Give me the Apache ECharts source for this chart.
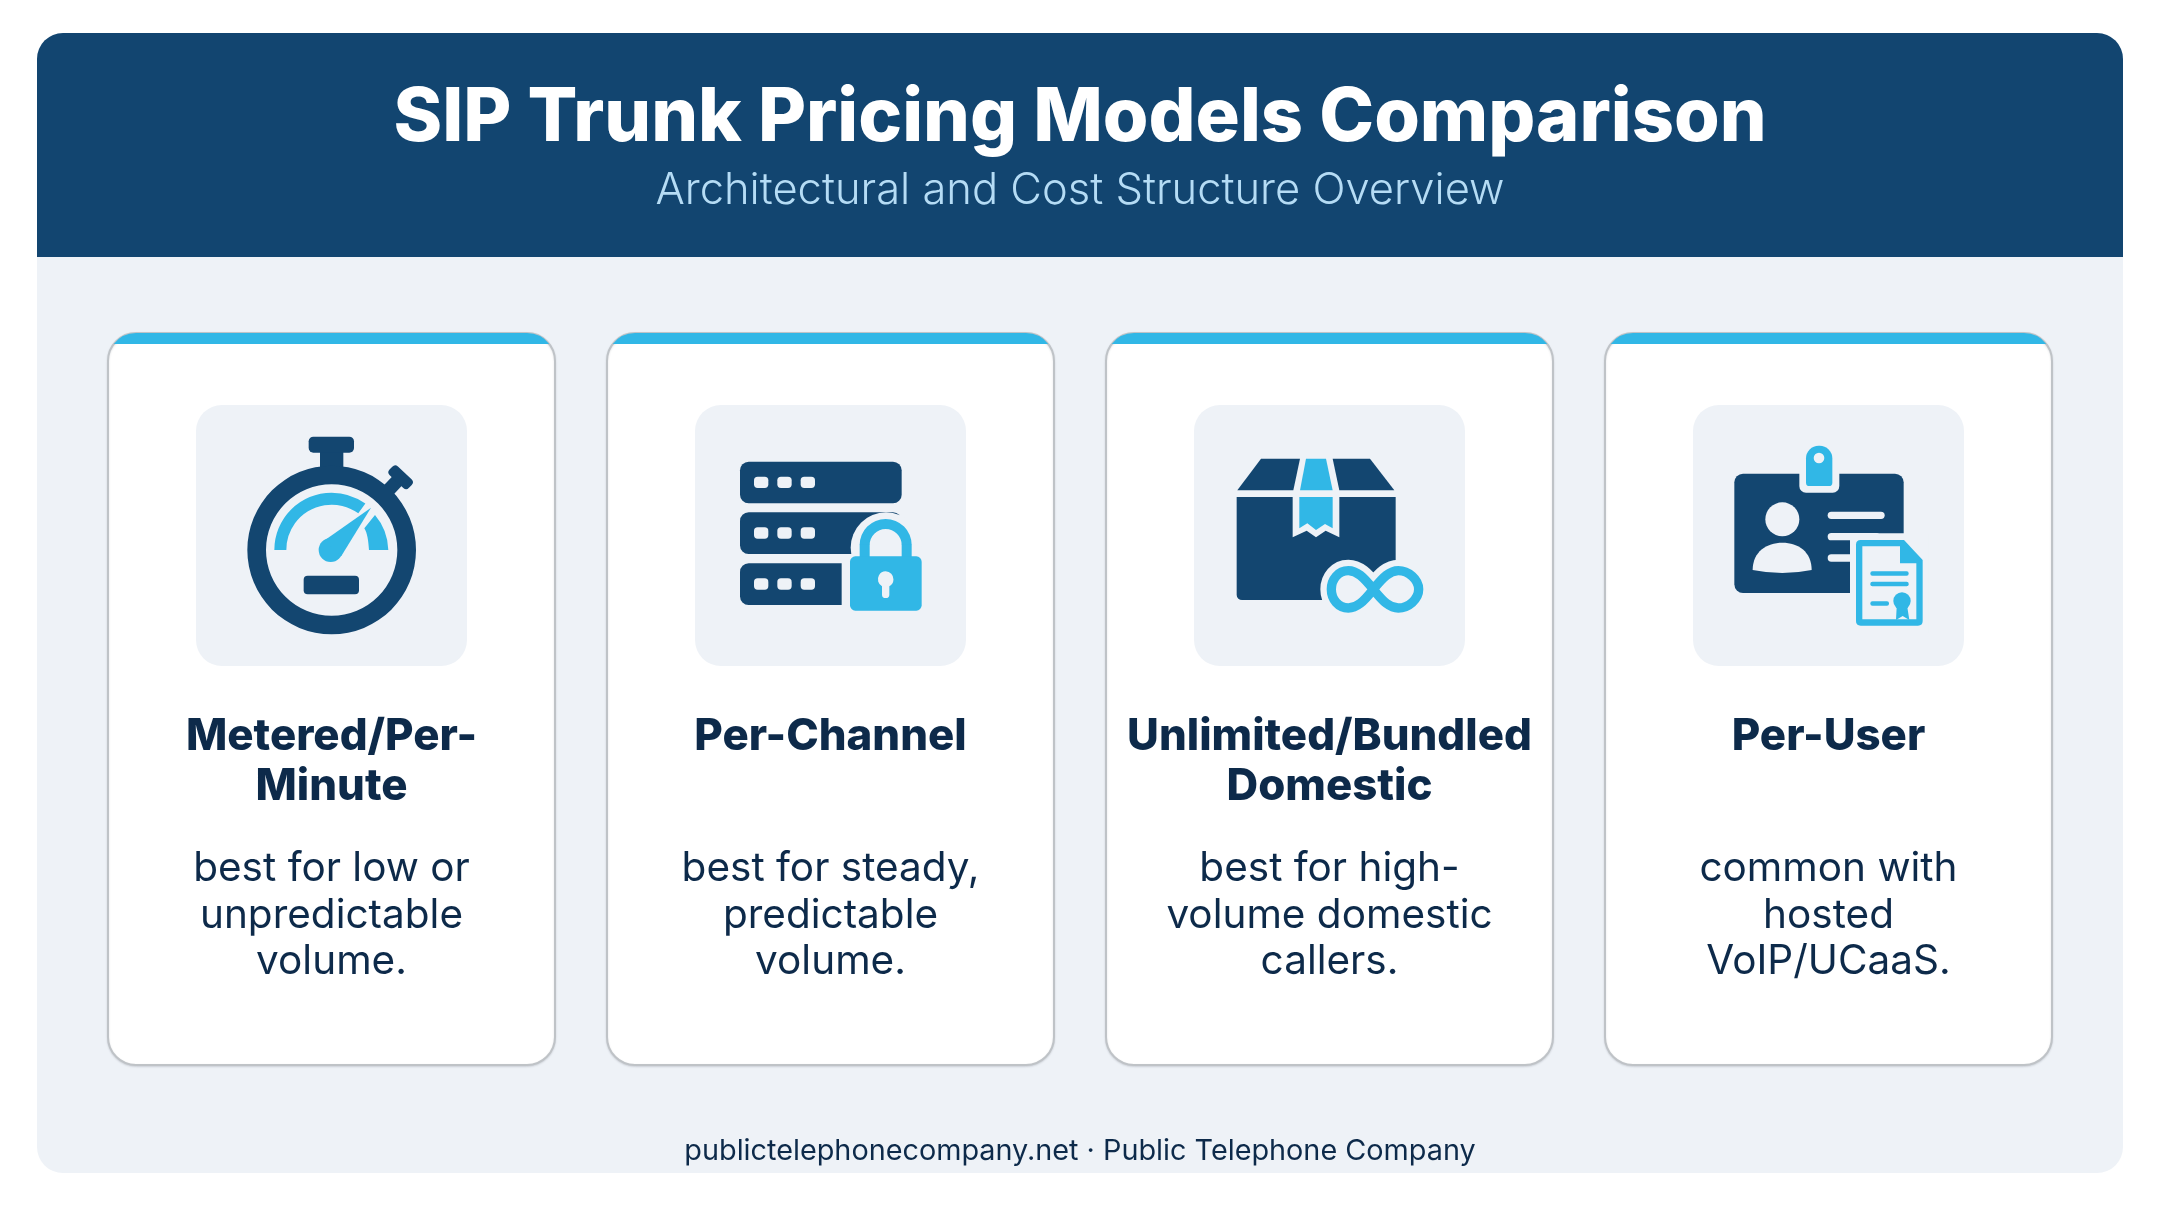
<!DOCTYPE html>
<html lang="en">
<head>
	<meta charset="utf-8">
	<title>SIP Trunk Pricing Models Comparison</title>
	<script src="https://cdn.jsdelivr.net/npm/echarts@6/dist/echarts.min.js"></script>
	<style>
		html, body { margin: 0; padding: 0; background: #ffffff; }
		#main { width: 2160px; height: 1206px; }
	</style>
</head>
<body>
	<div id="main"></div>
	<script type="text/javascript">
		// text of the picture
		var chartTitle = 'SIP Trunk Pricing Models Comparison';
		var chartSubtitle = 'Architectural and Cost Structure Overview';
		var footerText = 'publictelephonecompany.net · Public Telephone Company';
		var modelNames = [
			['Metered/Per-', 'Minute'],
			['Per-Channel'],
			['Unlimited/Bundled', 'Domestic'],
			['Per-User']
		];
		var modelNotes = [
			['best for low or', 'unpredictable', 'volume.'],
			['best for steady,', 'predictable', 'volume.'],
			['best for high-', 'volume domestic', 'callers.'],
			['common with', 'hosted', 'VoIP/UCaaS.']
		];

		var NAVY = '#134670';
		var SKY = '#31b7e6';
		var TILE = '#eef2f7';
		var INK = '#0d2a4a';
		var FONT = 'Inter, "Noto Sans", sans-serif';

		var cardLeft = [108, 607, 1106, 1605];
		var tileLeft = [196, 695, 1194, 1693];
		var iconLeft = [180, 680, 1180, 1680];

		// shapes the graphic component does not have
		echarts.graphic.registerShape('cardBar', echarts.graphic.extendShape({
			shape: { x: 0, y: 0, w: 0, h: 0, r: 0 },
			buildPath: function (ctx, s) {
				var a = Math.asin((s.r - s.h) / s.r);
				ctx.moveTo(s.x + s.r - s.r * Math.cos(a), s.y + s.h);
				ctx.arc(s.x + s.r, s.y + s.r, s.r, Math.PI + a, Math.PI * 1.5);
				ctx.lineTo(s.x + s.w - s.r, s.y);
				ctx.arc(s.x + s.w - s.r, s.y + s.r, s.r, Math.PI * 1.5, Math.PI * 2 - a);
				ctx.closePath();
			}
		}));
		function svgShape(name, d) {
			echarts.graphic.registerShape(name, echarts.graphic.extendPath(d, {}));
		}
		svgShape('gaugeEnd', 'M585 345 A170 170 0 0 1 625 450 L567 450 C565 420 562 400 553 385 Z');
		svgShape('infinity', 'M580 568 C550 530 530 512 505 512 C475 512 454 538 454 568 C454 598 475 624 505 624 C530 624 550 606 580 568 C610 530 630 512 655 512 C685 512 716 538 716 568 C716 598 685 624 655 624 C630 624 610 606 580 568 Z');
		svgShape('shoulders', 'M218 510 C218 455 260 428 307 428 C355 428 395 455 395 510 Q307 528 218 510 Z');
		svgShape('docOutline', 'M542 420 L672 420 L728 480 L728 663 Q728 677 714 677 L542 677 Q528 677 528 663 L528 434 Q528 420 542 420 Z');
		svgShape('keyhole', 'M617 514 A24 24 0 0 1 628 559 L628 584 Q628 594 617 594 Q606 594 606 584 L606 559 A24 24 0 0 1 617 514 Z');

		function rect(x0, y0, x1, y1, r, fill) {
			return { type: 'rect', shape: { x: x0, y: y0, width: x1 - x0, height: y1 - y0, r: r }, style: { fill: fill } };
		}
		function circle(cx, cy, r, fill) {
			return { type: 'circle', shape: { cx: cx, cy: cy, r: r }, style: { fill: fill } };
		}
		function poly(points, fill) {
			return { type: 'polygon', shape: { points: points }, style: { fill: fill } };
		}
		function label(text, x, y, size, weight, fill, scaleX) {
			return {
				type: 'text', x: x, y: y, scaleX: scaleX,
				style: {
					text: text, fill: fill, textAlign: 'center', textVerticalAlign: 'middle',
					font: weight + ' ' + size + 'px ' + FONT
				}
			};
		}

		// icons, in crop units (3 units to a pixel)
		function stopwatch() {
			return [
				rect(420, 150, 490, 210, 0, NAVY),
				rect(386, 110, 522, 158, 14, NAVY),
				{ type: 'group', x: 640, y: 255, rotation: -Math.PI * 0.24, children: [
					rect(-20, -30, 20, 20, 0, NAVY),
					rect(-40, -50, 40, -14, 12, NAVY)
				] },
				{ type: 'ring', shape: { cx: 455, cy: 450, r: 253, r0: 197 }, style: { fill: NAVY } },
				{ type: 'sector', shape: { cx: 455, cy: 450, r: 172, r0: 136, startAngle: Math.PI, endAngle: Math.PI * 1.7 }, style: { fill: SKY } },
				{ type: 'gaugeEnd', style: { fill: SKY } },
				circle(452, 450, 36, SKY),
				poly([[432, 422], [573, 323], [484, 468]], SKY),
				rect(371, 527, 537, 583, 12, NAVY)
			];
		}
		function serverLock() {
			var out = [];
			[185, 337, 490].forEach(function (top) {
				out.push(rect(180, top, 665, top + 125, 26, NAVY));
				[222, 292, 362].forEach(function (x) {
					out.push(rect(x, top + 45, x + 43, top + 79, 11, TILE));
				});
			});
			out.push(circle(618, 443, 106, TILE));
			out.push(rect(485, 462, 750, 650, 0, TILE));
			out.push({ type: 'sector', shape: { cx: 617, cy: 435, r: 78, r0: 48, startAngle: Math.PI, endAngle: Math.PI * 2 }, style: { fill: SKY } });
			out.push(rect(539, 434, 569, 480, 0, SKY));
			out.push(rect(665, 434, 695, 480, 0, SKY));
			out.push(rect(510, 469, 725, 632, 16, SKY));
			out.push({ type: 'keyhole', style: { fill: TILE } });
			return out;
		}
		function boxInfinity() {
			return [
				poly([[172, 271], [243, 176], [360, 176], [340, 271]], NAVY),
				poly([[458, 176], [570, 176], [643, 271], [478, 271]], NAVY),
				poly([[378, 176], [438, 176], [458, 271], [360, 271]], SKY),
				rect(170, 291, 647, 600, [0, 0, 16, 16], NAVY),
				poly([[338, 291], [478, 291], [478, 412], [437, 392], [408, 412], [380, 392], [338, 412]], TILE),
				poly([[358, 291], [458, 291], [458, 385], [435, 372], [408, 390], [382, 370], [358, 385]], SKY),
				{ type: 'infinity', style: { fill: TILE, stroke: TILE, lineWidth: 66, lineJoin: 'round' } },
				{ type: 'infinity', style: { fill: 'none', stroke: SKY, lineWidth: 28, lineJoin: 'round' } }
			];
		}
		function badgeDoc() {
			return [
				rect(163, 221, 671, 579, 26, NAVY),
				rect(358, 190, 478, 278, 20, TILE),
				rect(378, 137, 457, 258, [38, 38, 10, 10], SKY),
				circle(417, 174, 16, TILE),
				circle(307, 358, 51, TILE),
				{ type: 'shoulders', style: { fill: TILE } },
				rect(443, 335, 614, 357, 11, TILE),
				rect(443, 399, 600, 421, 11, TILE),
				rect(443, 463, 600, 485, 11, TILE),
				rect(510, 400, 745, 700, 0, TILE),
				{ type: 'docOutline', style: { fill: SKY } },
				poly([[547, 439], [660, 439], [660, 490], [709, 490], [709, 658], [547, 658]], TILE),
				rect(571, 514, 686, 527, 6, SKY),
				rect(571, 545, 686, 559, 6, SKY),
				rect(571, 604, 627, 617, 6, SKY),
				poly([[650, 622], [682, 622], [688, 660], [668, 648], [648, 660]], SKY),
				circle(666, 603, 26, SKY)
			];
		}
		var icons = [stopwatch, serverLock, boxInfinity, badgeDoc];

		var elements = [
			rect(37, 33, 2123, 1173, 26, TILE),
			rect(37, 33, 2123, 257, [26, 26, 0, 0], '#124570'),
			label(chartTitle, 1080, 119, 73.8, 800, '#ffffff', 1),
			label(chartSubtitle, 1080, 191, 43.5, 300, '#b5dcf5', 1),
			label(footerText, 1080, 1151, 28.8, 400, INK, 1)
		];

		modelNames.forEach(function (lines, i) {
			var x = cardLeft[i];
			var mid = x + 223.5;
			elements.push({
				type: 'rect',
				shape: { x: x, y: 333, width: 447, height: 732, r: 28 },
				style: { fill: '#ffffff', stroke: '#bfc3c7', lineWidth: 2, shadowBlur: 2, shadowOffsetY: 1, shadowColor: 'rgba(60,70,80,0.15)' }
			});
			elements.push({ type: 'cardBar', shape: { x: x, y: 333, w: 447, h: 11, r: 28 }, style: { fill: SKY } });
			elements.push(rect(tileLeft[i], 405, tileLeft[i] + 271, 666, 26, TILE));
			elements.push({ type: 'group', x: iconLeft[i], y: 400, scaleX: 1 / 3, scaleY: 1 / 3, children: icons[i]() });
			lines.forEach(function (t, k) {
				elements.push(label(t, mid, 737 + k * 50, 43.8, 800, INK, 1));
			});
			modelNotes[i].forEach(function (t, k) {
				elements.push(label(t, mid, 869 + k * 46.6, 40.5, 400, INK, 1));
			});
		});

		var myChart = echarts.init(document.getElementById('main'));
		var option = {
			backgroundColor: '#ffffff',
			animation: false,
			graphic: { elements: elements }
		};
		myChart.setOption(option);
	</script>
</body>
</html>
